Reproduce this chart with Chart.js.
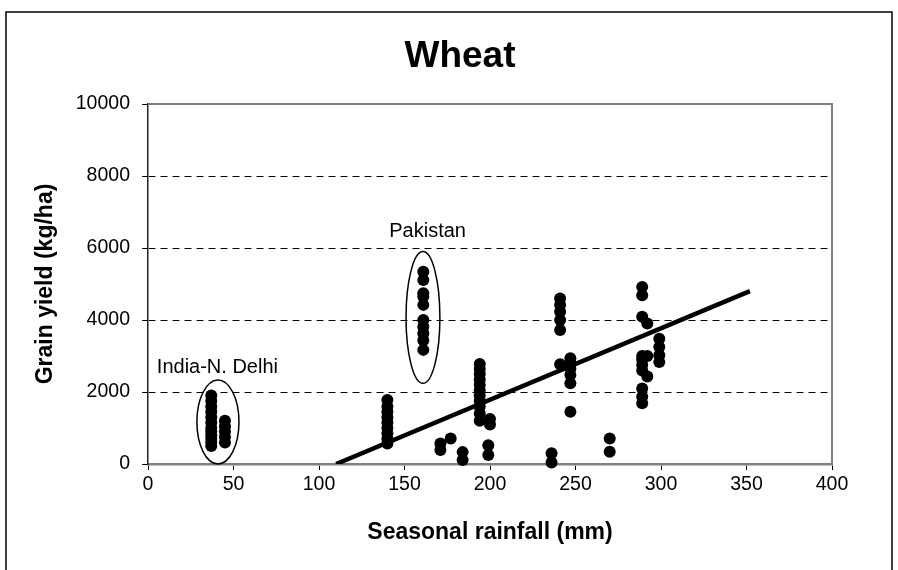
<!DOCTYPE html>
<html>
<head>
<meta charset="utf-8">
<script src="https://cdn.jsdelivr.net/npm/chart.js@4.4.0/dist/chart.umd.min.js"></script>
<style>
  html, body { margin: 0; padding: 0; background: #fff; }
  #chart { width: 898px; height: 570px; }
</style>
</head>
<body>
<div id="chart"><canvas id="c" width="898" height="570"></canvas></div>
<script>
// India-N. Delhi sites
const indiaRainfall = [37, 37, 37, 37, 37, 37, 37, 37, 37, 37, 37, 37, 45, 45, 45, 45, 45];
const indiaYield = [1900, 1750, 1600, 1450, 1300, 1150, 1000, 900, 800, 700, 600, 500, 1200, 1050, 900, 750, 600];

// Pakistan sites
const pakistanRainfall = [161, 161, 161, 161, 161, 161, 161, 161, 161, 161];
const pakistanYield = [5340, 5110, 4740, 4650, 4420, 4000, 3810, 3630, 3440, 3170];

// everything else
const otherRainfall = [
  140, 140, 140, 140, 140, 140, 140, 140, 140,
  171, 171, 177, 184, 184,
  194, 194, 194, 194, 194, 194, 194, 194, 194, 194, 194,
  200, 200, 199, 199,
  236, 236,
  241, 241, 241, 241, 241, 241,
  247, 247, 247, 247, 247, 247,
  270, 270,
  289, 289, 289, 289, 289, 289, 289, 289, 289, 289,
  292, 292, 292,
  299, 299, 299, 299
];
const otherYield = [
  1780, 1600, 1450, 1300, 1150, 1000, 850, 700, 570,
  570, 390, 710, 330, 110,
  2780, 2640, 2500, 2350, 2200, 2050, 1900, 1750, 1600, 1400, 1200,
  1250, 1100, 520, 250,
  300, 40,
  4600, 4420, 4230, 4000, 3720, 2770,
  2940, 2800, 2650, 2470, 2240, 1450,
  710, 340,
  4920, 4690, 4090, 3000, 2900, 2750, 2600, 2100, 1870, 1690,
  3900, 3000, 2430,
  3480, 3250, 3020, 2830
];

// fitted line
const fitRainfall = [110, 352];
const fitYield = [0, 4800];

// ticks
const xTicks = [0, 50, 100, 150, 200, 250, 300, 350, 400];
const yTicks = [0, 2000, 4000, 6000, 8000, 10000];

// group rings and their labels (data units)
const groupNames = ["India-N. Delhi", "Pakistan"];
const groupLabelX = [40.6, 163.5];
const groupLabelY = [2690, 6470];
const ringX = [40.9, 160.8];
const ringY = [1167, 4070];
const ringRx = [12.3, 9.9];
const ringRy = [1167, 1830];

const chartTitle = "Wheat";

const FONT = "'Liberation Sans', Arial, sans-serif";

const toXY = (xs, ys) => xs.map((x, i) => ({ x: x, y: ys[i] }));

const allPoints = [].concat(
  toXY(indiaRainfall, indiaYield),
  toXY(pakistanRainfall, pakistanYield),
  toXY(otherRainfall, otherYield)
);

const decorations = {
  id: "decorations",
  beforeDraw(chart) {
    const ctx = chart.ctx;
    const a = chart.chartArea;
    ctx.save();
    ctx.strokeStyle = "#000";
    ctx.lineWidth = 1.5;
    ctx.strokeRect(6, 12, 886, 620);
    // title, a bit left of the plot centre like the original
    ctx.fillStyle = "#000";
    ctx.font = "bold 37px " + FONT;
    ctx.textAlign = "center";
    ctx.textBaseline = "middle";
    ctx.fillText(chartTitle, (a.left + a.right) / 2 - 30, 57);
    ctx.restore();
  },
  beforeDatasetsDraw(chart) {
    const a = chart.chartArea;
    const ctx = chart.ctx;
    ctx.save();
    ctx.strokeStyle = "#808080";
    ctx.lineWidth = 2;
    ctx.beginPath();
    ctx.moveTo(a.left, a.top);
    ctx.lineTo(a.right, a.top);
    ctx.lineTo(a.right, a.bottom);
    ctx.stroke();
    ctx.restore();
  },
  afterDatasetsDraw(chart) {
    const ctx = chart.ctx;
    const xs = chart.scales.x;
    const ys = chart.scales.y;
    ctx.save();
    ctx.strokeStyle = "#000";
    ctx.lineWidth = 1.5;
    ringX.forEach((cx, i) => {
      const px = xs.getPixelForValue(cx);
      const py = ys.getPixelForValue(ringY[i]);
      const rx = Math.abs(xs.getPixelForValue(cx + ringRx[i]) - px);
      const ry = Math.abs(ys.getPixelForValue(ringY[i] + ringRy[i]) - py);
      ctx.beginPath();
      ctx.ellipse(px, py, rx, ry, 0, 0, Math.PI * 2);
      ctx.stroke();
    });
    ctx.fillStyle = "#000";
    ctx.font = "20px " + FONT;
    ctx.textAlign = "center";
    ctx.textBaseline = "middle";
    groupNames.forEach((name, i) => {
      ctx.fillText(name, xs.getPixelForValue(groupLabelX[i]), ys.getPixelForValue(groupLabelY[i]));
    });
    ctx.restore();
  }
};

new Chart(document.getElementById("c"), {
  data: {
    datasets: [
      {
        type: "scatter",
        data: allPoints,
        backgroundColor: "#000",
        borderWidth: 0,
        pointRadius: 6,
        clip: false
      },
      {
        type: "line",
        data: toXY(fitRainfall, fitYield),
        borderColor: "#000",
        borderWidth: 4.5,
        pointRadius: 0,
        fill: false
      }
    ]
  },
  options: {
    responsive: false,
    animation: false,
    layout: { padding: { top: 104, left: 0, right: 66, bottom: 0 } },
    plugins: {
      legend: { display: false },
      tooltip: { enabled: false },
      title: { display: false }
    },
    scales: {
      x: {
        type: "linear",
        position: "bottom",
        min: 0,
        max: 400,
        afterBuildTicks: (s) => { s.ticks = xTicks.map((v) => ({ value: v })); },
        afterFit: (s) => { s.height = 106; },
        grid: { drawOnChartArea: false, drawTicks: true, tickLength: 6, tickColor: "#000", tickWidth: 1 },
        border: { color: "#808080", width: 2.5 },
        ticks: {
          color: "#000",
          font: { family: FONT, size: 19.5 },
          padding: 3,
          autoSkip: false,
          maxRotation: 0,
          callback: (v) => String(v)
        },
        title: {
          display: true,
          text: "Seasonal rainfall (mm)",
          color: "#000",
          font: { family: FONT, size: 23, weight: "bold" },
          padding: { top: 0, bottom: 24 }
        }
      },
      y: {
        type: "linear",
        min: 0,
        max: 10000,
        afterBuildTicks: (s) => { s.ticks = yTicks.map((v) => ({ value: v })); },
        afterFit: (s) => { s.width = 148; },
        grid: {
          color: (c) => (c.tick && c.tick.value > 0 && c.tick.value < 10000 ? "#000" : "rgba(0,0,0,0)"),
          lineWidth: 1,
          drawTicks: true,
          tickLength: 6,
          tickColor: "#000",
          tickWidth: 1,
          tickBorderDash: []
        },
        border: { color: "#222", width: 1.5, dash: [7, 5] },
        ticks: {
          color: "#000",
          font: { family: FONT, size: 19.5 },
          padding: 12,
          callback: (v) => String(v)
        },
        title: {
          display: true,
          text: "Grain yield (kg/ha)",
          color: "#000",
          font: { family: FONT, size: 23, weight: "bold" },
          padding: { top: 32, bottom: 0 }
        }
      }
    }
  },
  plugins: [decorations]
});
</script>
</body>
</html>
